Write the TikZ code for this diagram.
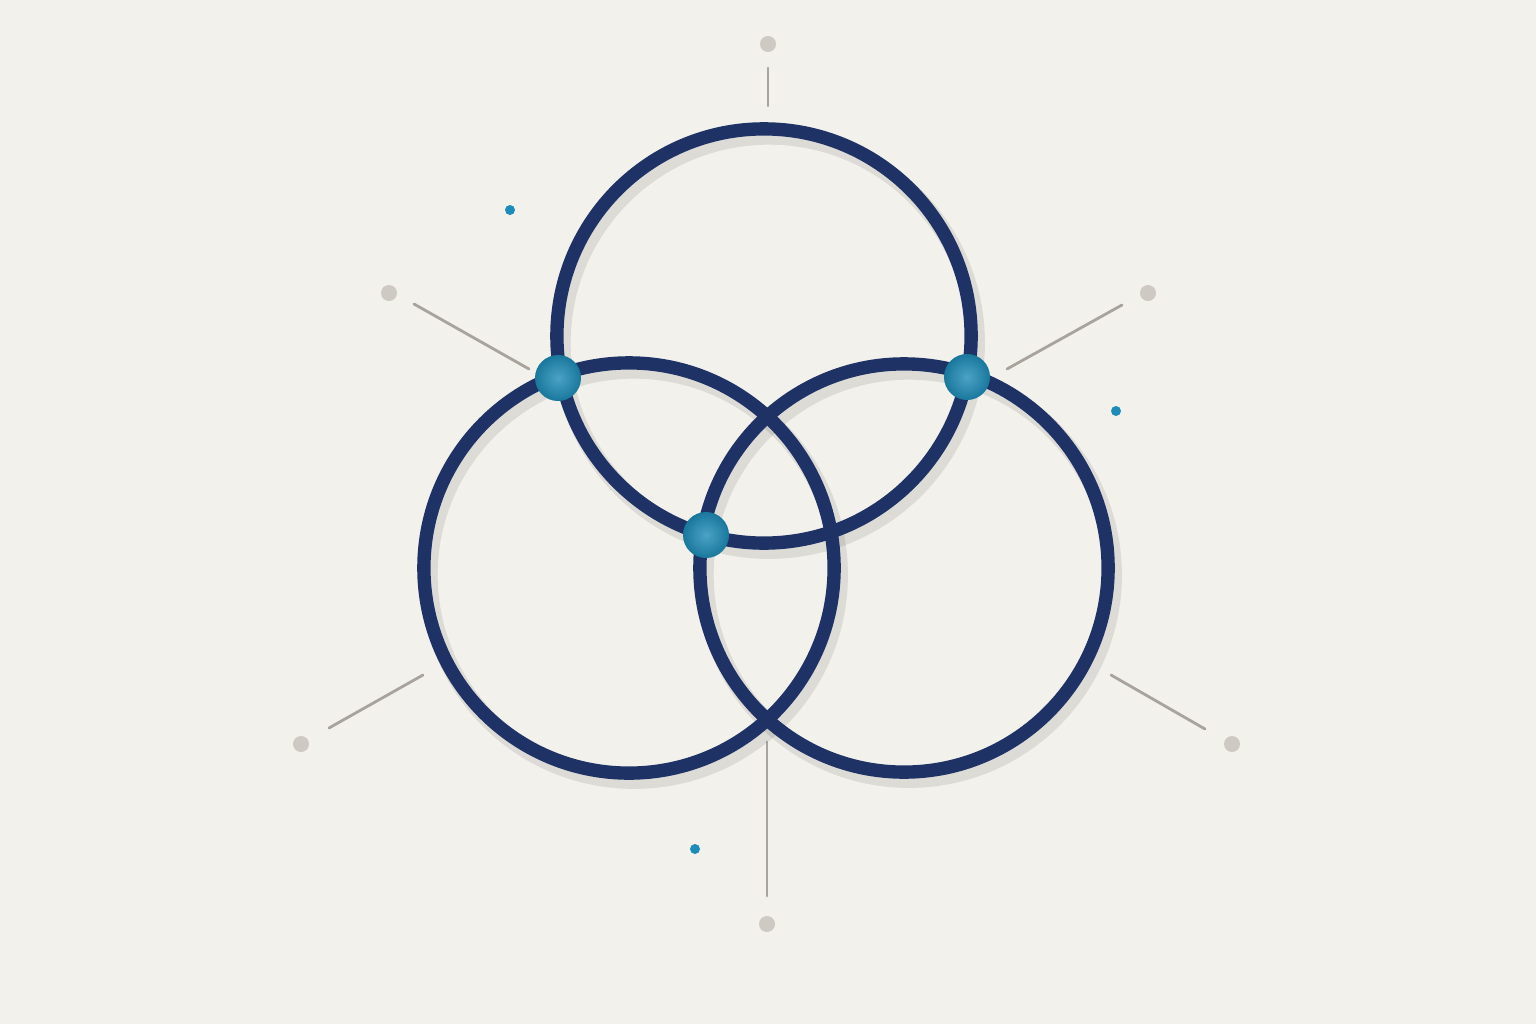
\documentclass[tikz,border=0pt]{standalone}
\usepackage{tikz}

\definecolor{paper}{RGB}{243,241,236}
\definecolor{ringblue}{RGB}{30,50,102}
\definecolor{beadteal}{RGB}{30,140,184}
\definecolor{spokegray}{RGB}{168,163,157}
\definecolor{dotgray}{RGB}{206,201,195}

\tikzset{
  ring/.style={draw=ringblue, line width=3.8pt},
  ringshadow/.style={draw=black, opacity=0.09, line width=5pt},
  bead/.style={circle, minimum size=0.46cm, inner sep=0pt,
    inner color=beadteal!80!white, outer color=beadteal!85!black},
  spoke/.style={draw=spokegray, line width=0.8pt, line cap=round},
  greydot/.style={circle, fill=dotgray, minimum size=0.16cm, inner sep=0pt},
  tealdot/.style={circle, fill=beadteal, minimum size=0.1cm, inner sep=0pt}
}

\begin{document}
\begin{tikzpicture}[x=0.01cm, y=-0.01cm]
  % Paper
  \fill[paper] (0,0) rectangle (1536,1024);
  \useasboundingbox (0,0) rectangle (1536,1024);

  % Ring centres
  \coordinate (ctop)   at (764,336);
  \coordinate (cleft)  at (629,568);
  \coordinate (cright) at (904,568);

  % Spokes
  \draw[spoke] (768,68) -- (768,106);
  \draw[spoke] (414,304) -- (529,369);
  \draw[spoke] (1007,369) -- (1122,305);
  \draw[spoke] (423,675) -- (329,728);
  \draw[spoke] (1111,675) -- (1205,729);
  \draw[spoke] (767,742) -- (767,896);

  % End dots
  \node[greydot] (dtop)    at (768,44) {};
  \node[greydot] (dul)     at (389,293) {};
  \node[greydot] (dur)     at (1148,293) {};
  \node[greydot] (dll)     at (301,744) {};
  \node[greydot] (dlr)     at (1232,744) {};
  \node[greydot] (dbottom) at (767,924) {};

  % Small teal dots
  \node[tealdot] (sul) at (510,210) {};
  \node[tealdot] (sr)  at (1116,411) {};
  \node[tealdot] (sb)  at (695,849) {};

  % Shadows
  \foreach \c/\r in {ctop/2.07cm, cright/2.04cm, cleft/2.05cm}
    \draw[ringshadow] ([shift={(5,7)}]\c) circle[radius=\r];

  % Rings (left one lies on top)
  \draw[ring] (ctop) circle[radius=2.07cm];
  \draw[ring] (cright) circle[radius=2.04cm];
  \draw[ring] (cleft) circle[radius=2.05cm];

  % Beads
  \node[bead] (bleft)  at (558,378) {};
  \node[bead] (bright) at (967,377) {};
  \node[bead] (bmid)   at (706,535) {};
\end{tikzpicture}
\end{document}
